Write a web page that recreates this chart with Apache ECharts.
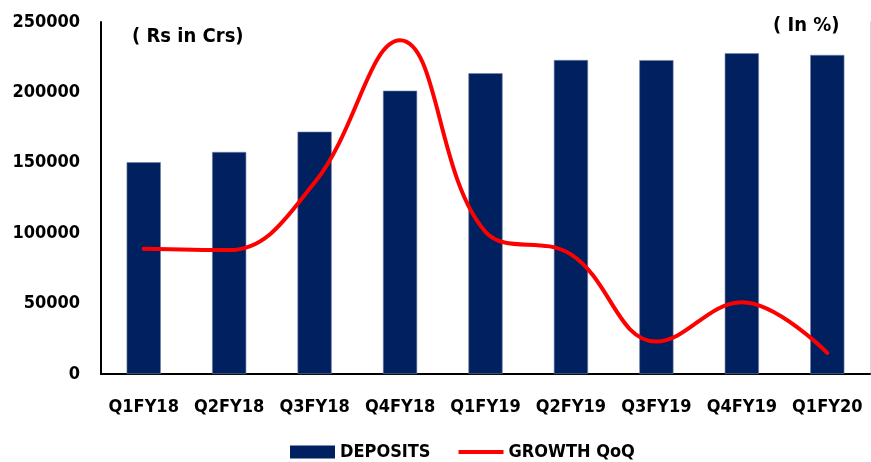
<!DOCTYPE html>
<html>
<head>
<meta charset="utf-8">
<script src="https://cdn.jsdelivr.net/npm/echarts@6/dist/echarts.min.js"></script>
<style>
  html, body { margin: 0; padding: 0; background: #fff; }
  #chart { width: 871px; height: 462px; }
</style>
</head>
<body>
<div id="chart"></div>
<script>
// Quarterly deposits (Rs in Crs) with quarter-on-quarter growth (%)
var quarters = ['Q1FY18', 'Q2FY18', 'Q3FY18', 'Q4FY18', 'Q1FY19', 'Q2FY19', 'Q3FY19', 'Q4FY19', 'Q1FY20'];
var deposits = [150400, 157700, 172100, 201200, 213600, 223000, 222900, 227800, 226600];
var growthQoQ = [8.9, 8.8, 13.6, 23.7, 10.1, 8.5, 2.3, 5.1, 1.5];
var depositTicks = [0, 50000, 100000, 150000, 200000, 250000];

var FONT = "'DejaVu Sans Condensed', 'DejaVu Sans', sans-serif";

var chart = echarts.init(document.getElementById('chart'));
chart.setOption({
  animation: false,
  textStyle: { fontFamily: FONT },
  grid: { left: 101, right: 1, top: 22, bottom: 88 },
  legend: {
    left: 290,
    top: 443,
    padding: 0,
    itemGap: 28,
    itemWidth: 45,
    itemHeight: 13,
    textStyle: { fontFamily: FONT, fontWeight: 'bold', fontSize: 18, color: '#000' },
    data: [
      { name: 'DEPOSITS', icon: 'rect', itemStyle: { borderWidth: 0 } },
      { name: 'GROWTH QoQ', icon: 'path://M0,0 L45,0 L45,4 L0,4 Z' }
    ]
  },
  xAxis: {
    type: 'category',
    data: quarters,
    axisLine: { lineStyle: { color: '#000', width: 2 } },
    axisTick: { show: false },
    axisLabel: { interval: 0, color: '#000', fontFamily: FONT, fontWeight: 'bold', fontSize: 18, margin: 24 }
  },
  yAxis: [
    {
      type: 'value',
      min: depositTicks[0],
      max: depositTicks[depositTicks.length - 1],
      interval: depositTicks[1] - depositTicks[0],
      axisLine: { show: true, lineStyle: { color: '#000', width: 2 } },
      axisTick: { show: false },
      splitLine: { show: false },
      axisLabel: {
        color: '#000', fontFamily: FONT, fontWeight: 'bold', fontSize: 18, margin: 21,
        formatter: function (v) { return String(v); }
      }
    },
    {
      type: 'value',
      min: 0,
      max: 25,
      position: 'right',
      axisLine: { show: true, lineStyle: { color: '#d9d9d9', width: 1 } },
      axisTick: { show: false },
      splitLine: { show: false },
      axisLabel: { show: false }
    }
  ],
  graphic: [
    {
      type: 'text', left: 132, top: 27,
      style: { text: '( Rs in Crs)', fill: '#000', font: 'bold 20px ' + FONT }
    },
    {
      type: 'text', left: 773, top: 16,
      style: { text: '( In %)', fill: '#000', font: 'bold 20px ' + FONT }
    }
  ],
  series: [
    {
      name: 'DEPOSITS',
      type: 'bar',
      data: deposits,
      barWidth: '40%',
      itemStyle: { color: '#002060', borderColor: '#7083a8', borderWidth: 0.6 }
    },
    {
      name: 'GROWTH QoQ',
      type: 'line',
      yAxisIndex: 1,
      data: growthQoQ,
      smooth: 0.4,
      symbol: 'none',
      lineStyle: { color: '#ff0000', width: 4, cap: 'round' },
      itemStyle: { color: '#ff0000' }
    }
  ]
});
</script>
</body>
</html>
